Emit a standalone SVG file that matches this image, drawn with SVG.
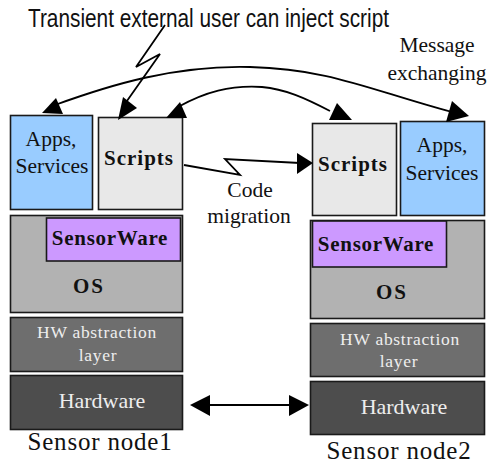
<svg xmlns="http://www.w3.org/2000/svg" width="491" height="464" viewBox="0 0 491 464">
<style>
.b{stroke:#1a1a1a;stroke-width:1.6}
.t{font-family:"Liberation Serif",serif;fill:#111;text-anchor:middle}
.w{fill:#eee}
.bd{font-weight:bold}
.c{fill:none;stroke:#000;stroke-width:1.8}
.h{fill:#000;stroke:none}
</style>
<rect width="491" height="464" fill="#fff"/>
<g id="node1-apps"><rect class="b" x="10.500" y="115.500" width="82" height="94" fill="#99ccff"/><text class="t" x="51" y="146" font-size="21.500">Apps,</text><text class="t" x="52" y="173" font-size="21.500">Services</text></g>
<g id="node1-scripts"><rect class="b" x="98.500" y="117.500" width="84" height="92" fill="#e8e8e8"/><text class="t bd" x="139" y="165" font-size="21" letter-spacing="1">Scripts</text></g>
<g id="node1-os"><rect class="b" x="10.500" y="215.500" width="172" height="97" fill="#b2b2b2"/><text class="t bd" x="89" y="293" font-size="21" letter-spacing="2">OS</text></g>
<g id="node1-sensorware"><rect class="b" x="46.500" y="218" width="134" height="43" fill="#cc99ff"/><text class="t bd" x="110" y="245" font-size="21" letter-spacing=".7">SensorWare</text></g>
<g id="node1-hal"><rect class="b" x="10.500" y="317.500" width="172" height="54" fill="#6e6e6e"/><text class="t w" x="97" y="338" font-size="17.500" letter-spacing=".7">HW abstraction</text><text class="t w" x="98" y="361" font-size="17.500" letter-spacing=".7">layer</text></g>
<g id="node1-hw"><rect class="b" x="10.500" y="375.500" width="172" height="54" fill="#4d4d4d"/><text class="t w" x="102" y="408" font-size="22">Hardware</text></g>
<g id="node1-label"><text class="t" x="100" y="450" font-size="25" letter-spacing=".8">Sensor node1</text></g>
<g id="node2-scripts"><rect class="b" x="312.500" y="123.500" width="84" height="92" fill="#e8e8e8"/><text class="t bd" x="353" y="171" font-size="21" letter-spacing="1">Scripts</text></g>
<g id="node2-apps"><rect class="b" x="400.500" y="121.500" width="84" height="94" fill="#99ccff"/><text class="t" x="442" y="152" font-size="21.500">Apps,</text><text class="t" x="442" y="180" font-size="21.500">Services</text></g>
<g id="node2-os"><rect class="b" x="310.500" y="220.500" width="174" height="98" fill="#b2b2b2"/><text class="t bd" x="392" y="299" font-size="21" letter-spacing="2">OS</text></g>
<g id="node2-sensorware"><rect class="b" x="312.500" y="221" width="134" height="46" fill="#cc99ff"/><text class="t bd" x="376" y="251" font-size="21" letter-spacing=".7">SensorWare</text></g>
<g id="node2-hal"><rect class="b" x="310.500" y="323.500" width="174" height="53" fill="#6e6e6e"/><text class="t w" x="400" y="345" font-size="17.500" letter-spacing=".7">HW abstraction</text><text class="t w" x="399" y="367" font-size="17.500" letter-spacing=".7">layer</text></g>
<g id="node2-hw"><rect class="b" x="310.500" y="381.500" width="174" height="53" fill="#4d4d4d"/><text class="t w" x="404" y="414" font-size="22">Hardware</text></g>
<g id="node2-label"><text class="t" x="399" y="459" font-size="25" letter-spacing=".8">Sensor node2</text></g>
<g id="connectors">
<path class="c" d="M165 25L136 67L160 54L122 108"/>
<path class="h" d="M118 120L123 97L137 108Z"/>
<path class="c" d="M55 105C110 85 175 65 250 67C330 69 370 90 452 112"/>
<path class="h" d="M42 113L56 98L63 114Z"/>
<path class="h" d="M446 122L452 101L469 116Z"/>
<path class="c" d="M178 107C205 92 230 85 262 87C285 89 305 98 330 111"/>
<path class="h" d="M166 118L180 102L187 118Z"/>
<path class="h" d="M329 120L337 103L352 120Z"/>
<path class="c" d="M184 165L240 175L225 159L300 163"/>
<path class="h" d="M313 163L297 153L297 174Z"/>
<path class="c" d="M205 405H295"/>
<path class="h" d="M190 405L210 395V416Z"/>
<path class="h" d="M309 405L289 395V416Z"/>
</g>
<g id="labels">
<text x="28" y="27" font-family="Liberation Sans,sans-serif" font-size="25" fill="#111" textLength="361" lengthAdjust="spacingAndGlyphs">Transient external user can inject script</text>
<text class="t" x="437" y="52" font-size="21.500">Message</text>
<text class="t" x="437" y="80" font-size="21.500">exchanging</text>
<text class="t" x="250" y="197" font-size="21.500">Code</text>
<text class="t" x="249" y="223" font-size="21.500">migration</text>
</g>
</svg>
